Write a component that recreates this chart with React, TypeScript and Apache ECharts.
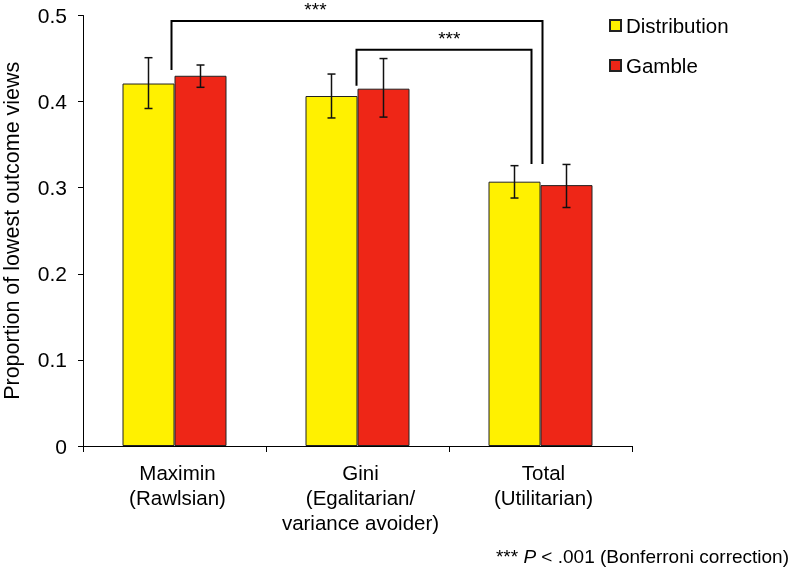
import React, { useEffect, useRef } from "react";
import * as echarts from "echarts";

const categories = ["Maximin\n(Rawlsian)", "Gini\n(Egalitarian/\nvariance avoider)", "Total\n(Utilitarian)"];
const seriesNames = ["Distribution", "Gamble"];
const distributionValues = [0.421, 0.4065, 0.307];
const gambleValues = [0.43, 0.415, 0.303];
const distributionLow = [0.392, 0.381, 0.288];
const distributionHigh = [0.451, 0.432, 0.3256];
const gambleLow = [0.4166, 0.382, 0.277];
const gambleHigh = [0.4425, 0.45, 0.327];
const yTicks = [0, 0.1, 0.2, 0.3, 0.4, 0.5];

// significance brackets (category indices and y values)
const bracketFrom = [0, 1];
const bracketTo = [2, 2];
const bracketTop = [0.4936, 0.4603];
const bracketLeftEnd = [0.4367, 0.4185];
const bracketRightEnd = [0.3275, 0.3275];
const bracketLabels = ["***", "***"];
const bracketStarValue = [0.5065, 0.4735];

const FONT = "'Liberation Sans', Arial, Helvetica, sans-serif";
const YELLOW = "#FFF100";
const RED = "#EE2617";
const BAR_W = 52;
// layout: pixel offsets of bracket ends from category centres, star position as fraction
const bracketDx = [[-3, 2], [-1, -9]];
const starFrac = [0.388, 0.53];

export default function App() {
  const ref = useRef<HTMLDivElement>(null);
  useEffect(() => {
    if (!ref.current) return;
    const chart = echarts.init(ref.current, null, { renderer: "svg" });

    const errSeries = (name: string, low: number[], high: number[], dx: number) => ({
      type: "custom",
      name: name + " err",
      z: 5,
      clip: false,
      encode: { x: 0, y: [1, 2] },
      data: low.map((l, i) => [i, l, high[i]]),
      renderItem: (params: any, api: any) => {
        const cat = api.value(0);
        const lo = api.coord([cat, api.value(1)]);
        const hi = api.coord([cat, api.value(2)]);
        const x = lo[0] + dx;
        const st = { stroke: "#111", lineWidth: 1.5 };
        return {
          type: "group",
          children: [
            { type: "line", shape: { x1: x, y1: hi[1], x2: x, y2: lo[1] }, style: st },
            { type: "line", shape: { x1: x - 4, y1: hi[1], x2: x + 4, y2: hi[1] }, style: st },
            { type: "line", shape: { x1: x - 4, y1: lo[1], x2: x + 4, y2: lo[1] }, style: st },
          ],
        };
      },
    });

    const option: any = {
      animation: false,
      textStyle: { fontFamily: FONT },
      grid: { left: 83, right: 164, top: 15.5, bottom: 126, containLabel: false, outerBoundsMode: "none" },
      legend: {
        data: seriesNames,
        orient: "vertical",
        left: 609,
        top: 15,
        padding: 0,
        icon: "rect",
        itemWidth: 11,
        itemHeight: 11,
        itemGap: 19,
        textStyle: { fontSize: 20.5, color: "#000", fontFamily: FONT },
        selectedMode: false,
      },
      xAxis: {
        type: "category",
        data: categories,
        axisLine: { lineStyle: { color: "#000", width: 1 } },
        axisTick: { show: true, length: 6, lineStyle: { color: "#000" } },
        axisLabel: {
          interval: 0,
          fontSize: 20.5,
          color: "#000",
          lineHeight: 25,
          margin: 14,
          fontFamily: FONT,
          padding: [0, 0, 0, 6],
        },
      },
      yAxis: {
        type: "value",
        min: 0,
        max: 0.5,
        interval: 0.1,
        name: "Proportion of lowest outcome views",
        nameLocation: "middle",
        nameGap: 60,
        nameTextStyle: { fontSize: 21.5, color: "#000", fontFamily: FONT },
        axisLine: { show: true, lineStyle: { color: "#000", width: 1 } },
        axisTick: { show: true, length: 5, lineStyle: { color: "#000" } },
        splitLine: { show: false },
        axisLabel: {
          fontSize: 21,
          color: "#000",
          margin: 16,
          fontFamily: FONT,
          formatter: (v: number) => {
            const t = yTicks.find((k) => Math.abs(k - v) < 1e-9);
            return t === undefined ? "" : String(t);
          },
        },
      },
      series: [
        {
          type: "bar",
          name: seriesNames[0],
          data: distributionValues,
          barWidth: BAR_W,
          barGap: "0%",
          itemStyle: { color: YELLOW, borderColor: "#222", borderWidth: 1 },
        },
        {
          type: "bar",
          name: seriesNames[1],
          data: gambleValues,
          barWidth: BAR_W,
          barGap: "0%",
          itemStyle: { color: RED, borderColor: "#222", borderWidth: 1 },
        },
        errSeries(seriesNames[0], distributionLow, distributionHigh, -BAR_W / 2),
        errSeries(seriesNames[1], gambleLow, gambleHigh, BAR_W / 2),
        {
          type: "custom",
          name: "brackets",
          z: 6,
          clip: false,
          encode: { x: [0, 1], y: [2, 3, 4] },
          data: bracketFrom.map((f, i) => [f, bracketTo[i], bracketTop[i], bracketLeftEnd[i], bracketRightEnd[i], bracketStarValue[i]]),
          renderItem: (params: any, api: any) => {
            const i = params.dataIndex;
            const from = api.value(0);
            const to = api.value(1);
            const pTopL = api.coord([from, api.value(2)]);
            const pTopR = api.coord([to, api.value(2)]);
            const pL = api.coord([from, api.value(3)]);
            const pR = api.coord([to, api.value(4)]);
            const pStar = api.coord([from, api.value(5)]);
            const xl = pTopL[0] + bracketDx[i][0];
            const xr = pTopR[0] + bracketDx[i][1];
            const xs = xl + (xr - xl) * starFrac[i];
            return {
              type: "group",
              children: [
                {
                  type: "polyline",
                  shape: { points: [[xl, pL[1]], [xl, pTopL[1]], [xr, pTopR[1]], [xr, pR[1]]] },
                  style: { stroke: "#000", lineWidth: 2, fill: "none" },
                },
                {
                  type: "text",
                  x: xs,
                  y: pStar[1],
                  style: {
                    text: bracketLabels[i],
                    align: "center",
                    verticalAlign: "middle",
                    fontSize: 19,
                    fontFamily: FONT,
                    fill: "#000",
                  },
                },
              ],
            };
          },
        },
      ],
      graphic: [
        {
          type: "text",
          right: 7,
          top: 547,
          style: {
            text: "{a|*** }{i|P}{a| < .001 (Bonferroni correction)}",
            rich: {
              a: { fontSize: 19, fontFamily: FONT, fill: "#000" },
              i: { fontSize: 19, fontFamily: FONT, fontStyle: "italic", fill: "#000" },
            },
          },
        },
      ],
    };
    chart.setOption(option);
    return () => chart.dispose();
  }, []);
  return <div ref={ref} style={{ position: "fixed", left: 0, top: 0, width: 796, height: 572 }} />;
}
